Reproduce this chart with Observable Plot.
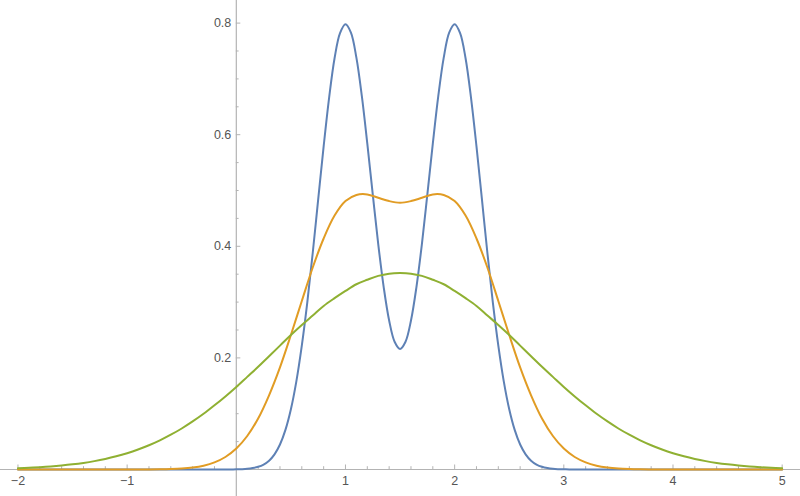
<!DOCTYPE html>
<html><head><meta charset="utf-8">
<script src="https://cdn.jsdelivr.net/npm/d3@7"></script>
<script src="https://cdn.jsdelivr.net/npm/@observablehq/plot@0.6"></script>
<style>body{margin:0;background:#fff;overflow:hidden}</style>
</head><body><div id="chart"></div>
<script>
// sample positions x = -2.0 ... 5.0 step 0.1 (orange, green)
const xs = d3.range(71).map(i => Math.round((-2 + i * 0.1) * 10) / 10);
// blue sampled more finely (step 0.05) where it is non-zero
const blueX = [-2, -1, -0.5, -0.2,
  ...d3.range(65).map(i => Math.round((-0.1 + i * 0.05) * 100) / 100),
  3.2, 3.5, 4, 5];

const blue = [
  0, 0, 0, 0,
  0.00005,0.00012,0.0003,0.0006,0.0012,0.0025,0.0048,0.0089,0.0158,0.0272,
  0.0448,0.0710,0.108,0.158,0.222,0.299,0.388,0.484,0.579,0.666,
  0.737,0.782,0.798,0.783,0.738,0.669,0.584,0.493,0.404,0.327,
  0.267,0.229,0.216,
  0.229,0.267,0.327,0.404,0.493,0.584,0.669,0.738,0.783,0.798,
  0.782,0.737,0.666,0.579,0.484,0.388,0.299,0.222,0.158,0.108,
  0.0710,0.0448,0.0272,0.0158,0.0089,0.0048,0.0025,0.0012,0.0006,0.0003,
  0.00012,0.00005,
  0, 0, 0, 0
];

const orange = [
  0,0,0,0,0,0,0,0,0,0,
  0.00002,0.00006,0.00015,0.00035,0.0008,0.0017,0.0035,0.0068,0.0127,0.0224,
  0.0375,0.0600,0.0914,0.133,0.183,0.241,0.302,0.362,0.414,0.455,
  0.481,0.492,0.493,0.487,0.481,0.478,
  0.481,0.487,0.493,0.492,0.481,0.455,0.414,0.362,0.302,0.241,0.183,0.133,0.0914,0.0600,0.0375,
  0.0224,0.0127,0.0068,0.0035,0.0017,0.0008,0.00035,0.00015,0.00006,0.00002,
  0,0,0,0,0,0,0,0,0,0
];

const green = [
  0.0023,0.0031,0.0041,0.0054,0.0071,0.0092,0.0118,0.0150,0.0189,0.0236,
  0.0292,0.0358,0.0434,0.0522,0.0623,0.0735,0.0861,0.0998,0.115,0.131,
  0.148,0.166,0.184,0.203,0.222,0.241,0.259,0.276,0.293,0.307,
  0.320,0.332,0.340,0.347,0.351,0.352,
  0.351,0.347,0.340,0.332,0.320,0.307,0.293,0.276,0.259,0.241,0.222,0.203,0.184,0.166,0.148,
  0.131,0.115,0.0998,0.0861,0.0735,0.0623,0.0522,0.0434,0.0358,0.0292,
  0.0236,0.0189,0.0150,0.0118,0.0092,0.0071,0.0054,0.0041,0.0031,0.0023
];

const xMajor = [-2, -1, 1, 2, 3, 4, 5];
const xMajorLabels = ["\u22122", "\u22121", "1", "2", "3", "4", "5"];
const xMinor = [-1.8,-1.6,-1.4,-1.2,-0.8,-0.6,-0.4,-0.2,0.2,0.4,0.6,0.8,1.2,1.4,1.6,1.8,
  2.2,2.4,2.6,2.8,3.2,3.4,3.6,3.8,4.2,4.4,4.6,4.8];
const yMajor = [0.2, 0.4, 0.6, 0.8];
const yMajorLabels = ["0.2", "0.4", "0.6", "0.8"];
const yMinor = [0.05,0.1,0.15,0.25,0.3,0.35,0.45,0.5,0.55,0.65,0.7,0.75];

const rows = xs.map((x, i) => ({x, orange: orange[i], green: green[i]}));
const blueRows = blueX.map((x, i) => ({x, y: blue[i]}));

const axisColor = "#b3b3b3";
const textColor = "#555555";
const font = "Liberation Sans, Arial, sans-serif";

const chart = Plot.plot({
  width: 800,
  height: 496,
  marginTop: 0, marginBottom: 0, marginLeft: 0, marginRight: 0,
  style: {background: "#fff", fontFamily: font},
  x: {domain: [-2.16, 5.168], axis: null},
  y: {domain: [-0.0484, 0.8405], axis: null},
  marks: [
    Plot.ruleY([0], {stroke: axisColor, strokeWidth: 1.2}),
    Plot.ruleX([0], {stroke: axisColor, strokeWidth: 1.2}),
    Plot.ruleX(xMajor, {x: d => d, y1: 0, y2: 0, insetTop: 0, insetBottom: 4.5, stroke: axisColor}),
    Plot.ruleX(xMinor, {x: d => d, y1: 0, y2: 0, insetTop: 0, insetBottom: 2.8, stroke: axisColor}),
    Plot.ruleY(yMajor, {y: d => d, x1: 0, x2: 0, insetLeft: 0, insetRight: -4.5, stroke: axisColor}),
    Plot.ruleY(yMinor, {y: d => d, x1: 0, x2: 0, insetLeft: 0, insetRight: -2.8, stroke: axisColor}),
    Plot.text(xMajor, {x: d => d, y: 0, dy: 12, text: (d, i) => xMajorLabels[i], fill: textColor, fontSize: 12.5, lineAnchor: "middle"}),
    Plot.text(yMajor, {x: 0, y: d => d, dx: -5, text: (d, i) => yMajorLabels[i], fill: textColor, fontSize: 12.5, textAnchor: "end", lineAnchor: "middle"}),
    Plot.line(blueRows, {x: "x", y: "y", stroke: "#5E81B5", strokeWidth: 2, curve: "catmull-rom"}),
    Plot.line(rows, {x: "x", y: "orange", stroke: "#E19C24", strokeWidth: 2, curve: "catmull-rom"}),
    Plot.line(rows, {x: "x", y: "green", stroke: "#8FB032", strokeWidth: 2, curve: "catmull-rom"})
  ]
});
document.getElementById("chart").appendChild(chart);
</script>
</body></html>
